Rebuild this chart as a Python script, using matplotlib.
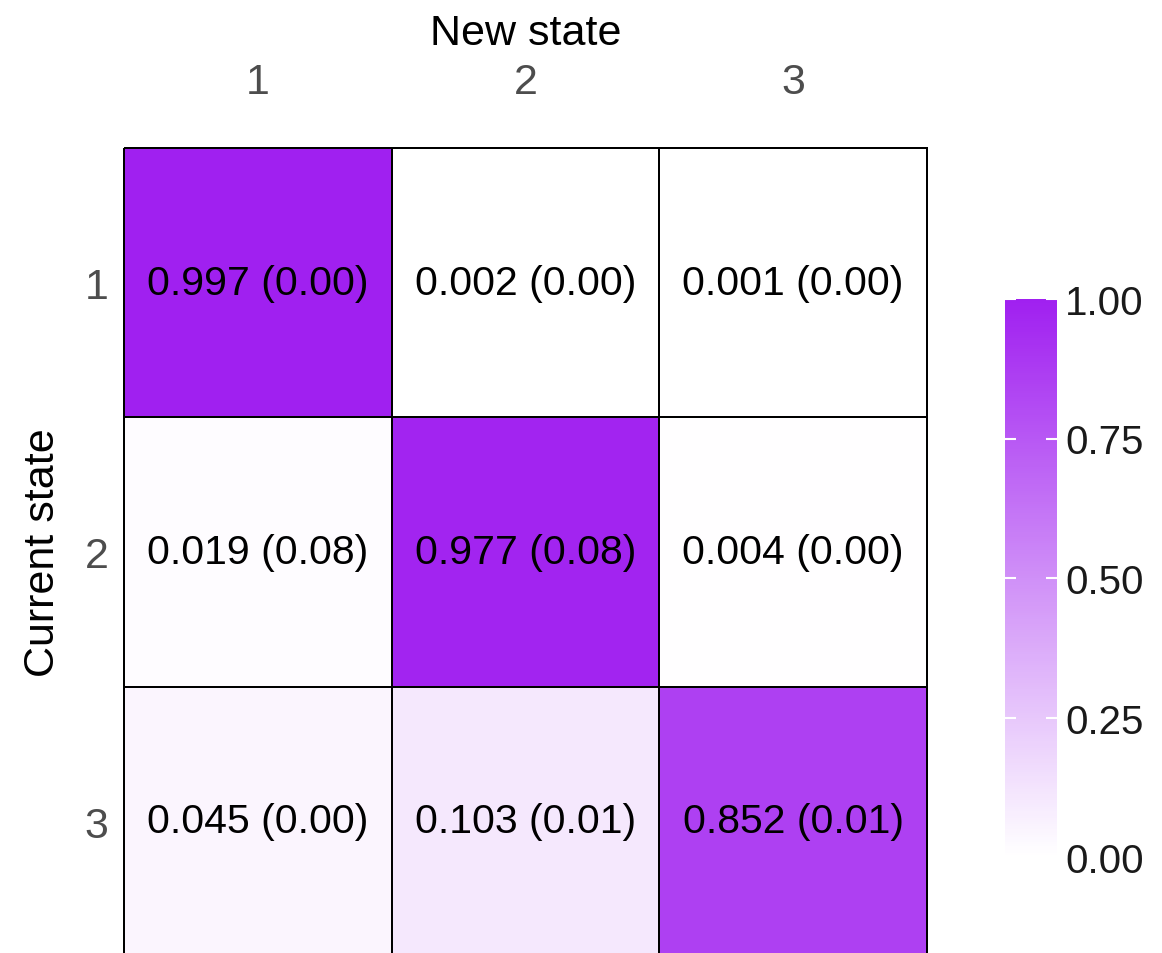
import numpy as np
import matplotlib.pyplot as plt
from matplotlib.colors import LinearSegmentedColormap

# 전이 확률 행렬 (행: 현재 상태, 열: 새 상태)
states = ['1', '2', '3']
prob = np.array([[0.997, 0.002, 0.001],
                 [0.019, 0.977, 0.004],
                 [0.045, 0.103, 0.852]])
se = np.array([[0.00, 0.00, 0.00],
               [0.08, 0.08, 0.00],
               [0.00, 0.01, 0.01]])
cbar_ticks = [0.00, 0.25, 0.50, 0.75, 1.00]

plt.rcParams['font.family'] = ['Liberation Sans', 'DejaVu Sans']

W, H = 1162, 954
fig = plt.figure(figsize=(W / 100, H / 100), dpi=100)

# 히트맵 영역
ax = fig.add_axes([124 / W, 1 - 957 / H, (927 - 124) / W, (957 - 149) / H])
cmap = LinearSegmentedColormap.from_list('wp', ['#FFFFFF', '#A020F0'])
mesh = ax.pcolormesh(prob, cmap=cmap, vmin=0, vmax=1,
                     edgecolors='black', linewidth=1.4)
mesh.set_clip_on(False)
ax.set_xlim(0, 3)
ax.set_ylim(3, 0)

# 셀 텍스트
for i in range(3):
    for j in range(3):
        ax.text(j + 0.5, i + 0.5, f'{prob[i, j]:.3f} ({se[i, j]:.2f})',
                ha='center', va='center', fontsize=29.5, color='black')

ax.xaxis.tick_top()
ax.xaxis.set_label_position('top')
ax.set_xticks([0.5, 1.5, 2.5])
ax.set_xticklabels(states)
ax.set_yticks([0.5, 1.5, 2.5])
ax.set_yticklabels(states)
ax.tick_params(axis='x', length=0, pad=33, labelsize=31, colors='#4D4D4D')
ax.tick_params(axis='y', length=0, pad=11, labelsize=31, colors='#4D4D4D')
ax.set_xlabel('New state', fontsize=31, labelpad=13)
ax.set_ylabel('Current state', fontsize=31, labelpad=16)
for s in ax.spines.values():
    s.set_visible(False)

# 컬러바
cax = fig.add_axes([1005 / W, 1 - 858 / H, 52 / W, 558 / H])
cb = fig.colorbar(mesh, cax=cax, ticks=cbar_ticks, format='%.2f')
cb.outline.set_visible(False)
cax.tick_params(direction='in', length=8, width=1.5, color='white',
                left=True, right=True, labelsize=29, labelcolor='#1a1a1a', pad=6)

fig.savefig('out.png', dpi=100)
